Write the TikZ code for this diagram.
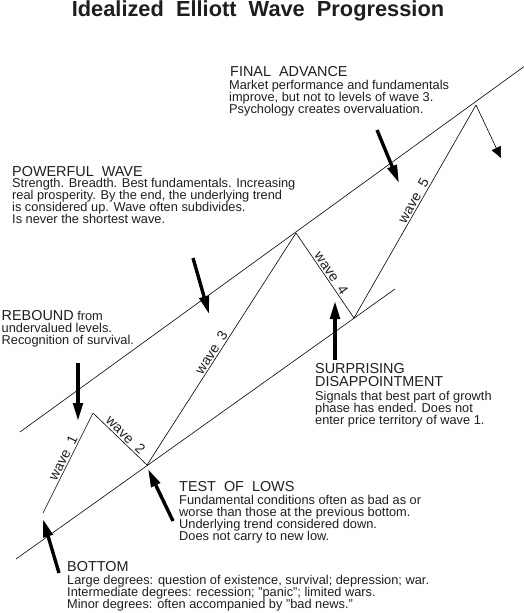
\documentclass[tikz,border=0pt]{standalone}
\usepackage{fontspec}
\setmainfont{Liberation Sans}
\usetikzlibrary{arrows.meta}
\newcommand\txtlines[1]{\vtop{\lineskiplimit=-\maxdimen\halign{##\hfil\cr#1\crcr}}}
\definecolor{ink}{HTML}{1E1E1E}
\tikzset{
  chan/.style={line width=0.6pt, draw=black},
  headtxt/.style={anchor=base west, inner sep=0pt, text=ink, font=\fontsize{14.4}{13}\selectfont},
  bodytxt/.style={anchor=base west, inner sep=0pt, text=ink, font=\fontsize{12.8}{12.1}\selectfont},
  wavelbl/.style={sloped, above, inner sep=1.5pt, text=ink, font=\fontsize{14}{14}\selectfont},
  bigarrow/.style={line width=3.4pt, draw=black, -{Triangle[length=18pt,width=9.5pt]}},
}
\begin{document}
\begin{tikzpicture}[x=1pt,y=-1pt]
\useasboundingbox (0,0) rectangle (524,613);
% title
\node[anchor=base, inner sep=0pt, text=ink, font=\fontsize{21.8}{24}\selectfont\bfseries] (title) at (258,16.2) {Idealized~~Elliott~~Wave~~Progression};
% channel lines
\coordinate (ua) at (20,432);
\coordinate (ub) at (524,66.6);
\coordinate (la) at (16,559);
\coordinate (lb) at (395,289);
\draw[chan] (ua) -- (ub);
\draw[chan] (la) -- (lb);
% wave points
\coordinate (w0) at (43,513);
\coordinate (w1) at (93,413);
\coordinate (w2) at (147,465);
\coordinate (w3) at (296,233);
\coordinate (w4) at (354,318);
\coordinate (w5) at (476,105);
\coordinate (fall) at (501,158);
\draw[chan] (w0) -- node[wavelbl, pos=0.52] (l1) {wave~~1} (w1);
\draw[chan] (w1) -- node[wavelbl, pos=0.52] (l2) {wave~~2} (w2);
\draw[chan] (w2) -- node[wavelbl, pos=0.47] (l3) {wave~~3} (w3);
\draw[chan] (w3) -- node[wavelbl, pos=0.515] (l4) {wave~~4} (w4);
\draw[chan] (w4) -- node[wavelbl, pos=0.535] (l5) {wave~~5} (w5);
\draw[chan, -{Triangle[length=11pt,width=10pt]}] (w5) -- (fall);
% big arrows
\coordinate (a1s) at (78,363);   \coordinate (a1e) at (78,421);
\coordinate (a2s) at (193,258);  \coordinate (a2e) at (209,314);
\coordinate (a3s) at (377,130);  \coordinate (a3e) at (399,183);
\coordinate (a4s) at (335,360);  \coordinate (a4e) at (335,301);
\coordinate (a5s) at (173,521);  \coordinate (a5e) at (148,469);
\coordinate (a6s) at (59,573);   \coordinate (a6e) at (43,519);
\draw[bigarrow] (a1s) -- (a1e);
\draw[bigarrow] (a2s) -- (a2e);
\draw[bigarrow] (a3s) -- (a3e);
\draw[bigarrow] (a4s) -- (a4e);
\draw[bigarrow] (a5s) -- (a5e);
\draw[bigarrow] (a6s) -- (a6e);
% texts
\node[headtxt] (fah) at (230,76) {FINAL~~ADVANCE};
\node[bodytxt] (fab) at (229,89) {\txtlines{Market performance and fundamentals\cr
improve, but not to levels of wave 3.\cr
Psychology creates overvaluation.}};
\node[headtxt] (pwh) at (12,176) {POWERFUL~~WAVE};
\node[bodytxt] (pwb) at (12,187.3) {\txtlines{Strength. Breadth. Best fundamentals. Increasing\cr
real prosperity. By the end, the underlying trend\cr
is considered up. Wave often subdivides.\cr
Is never the shortest wave.}};
\node[bodytxt] (rb) at (1.5,320) {\txtlines{{\fontsize{14.4}{13}\selectfont REBOUND} from\cr
undervalued levels.\cr
Recognition of survival.}};
\node[headtxt] (sdh) at (315,373.3) {\txtlines{SURPRISING\cr DISAPPOINTMENT}};
\node[bodytxt] (sdb) at (315,400) {\txtlines{Signals that best part of growth\cr
phase has ended. Does not\cr
enter price territory of wave 1.}};
\node[headtxt] (tlh) at (179,491) {TEST~~OF~~LOWS};
\node[bodytxt] (tlb) at (179,504) {\txtlines{Fundamental conditions often as bad as or\cr
worse than those at the previous bottom.\cr
Underlying trend considered down.\cr
Does not carry to new low.}};
\node[headtxt] (bth) at (67,571) {BOTTOM};
\node[bodytxt] (btb) at (67,584) {\txtlines{Large degrees: question of existence, survival; depression; war.\cr
Intermediate degrees: recession; "panic"; limited wars.\cr
Minor degrees: often accompanied by "bad news.”}};
\end{tikzpicture}
\end{document}
